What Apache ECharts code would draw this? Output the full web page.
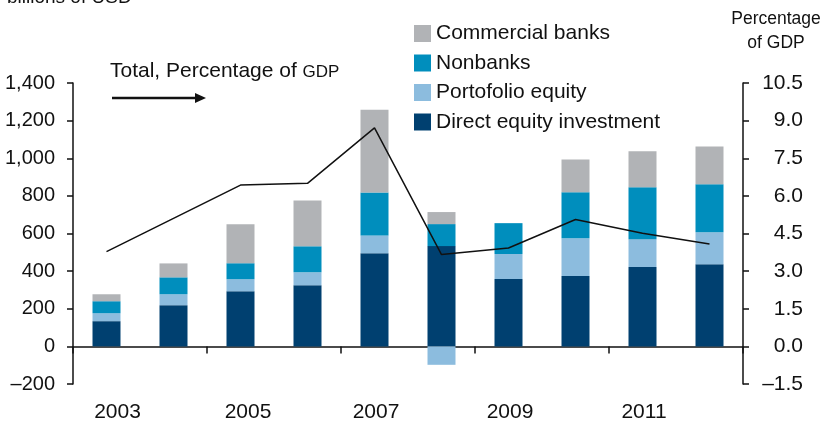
<!DOCTYPE html>
<html>
<head>
<meta charset="utf-8">
<script src="https://cdn.jsdelivr.net/npm/echarts@6/dist/echarts.min.js"></script>
<style>
html, body { margin: 0; padding: 0; background: #fff; }
#chart { width: 824px; height: 422px; }
</style>
</head>
<body>
<div id="chart"></div>
<script>
var years = ["2003", "2004", "2005", "2006", "2007", "2008", "2009", "2010", "2011", "2012"];
var directEquity = [134, 219, 293, 325, 495, 533, 358, 374, 422, 437];
var portfolioEquity = [42, 58, 64, 69, 95, -98, 133, 201, 148, 170];
var nonbanks = [64, 90, 85, 138, 228, 117, 164, 244, 276, 255];
var commercialBanks = [37, 74, 207, 244, 440, 64, 0, 175, 191, 201];
var totalPctGdp = [3.78, 5.1, 6.43, 6.5, 8.71, 3.66, 3.92, 5.06, 4.51, 4.08];
var leftTicks = { min: -200, max: 1400, interval: 200 };
var rightTicks = { min: -1.5, max: 10.5, interval: 1.5 };

var font = "'Liberation Sans', Arial, Helvetica, sans-serif";
var colors = {
    commercial: "#b1b3b6",
    nonbanks: "#008ebd",
    portfolio: "#8cbcde",
    direct: "#004070"
};
// the source nudges the first year labels a little to the right
var labelShift = { "2003": 22, "2005": 15 };

var myChart = echarts.init(document.getElementById("chart"));

function barSeries(name, data, color) {
    return {
        name: name,
        type: "bar",
        stack: "total",
        barWidth: 28,
        data: data,
        itemStyle: { color: color },
        emphasis: { disabled: true }
    };
}

var yearLabels = years.map(function(y) {
    return { value: y, textStyle: { padding: [0, 0, 0, labelShift[y] || 3] } };
});

var option = {
    animation: false,
    textStyle: { fontFamily: font },
    grid: { left: 73, right: 81, top: 83, bottom: 38, outerBoundsMode: "none", containLabel: false },
    legend: {
        orient: "vertical",
        left: 414,
        top: 23,
        padding: 0,
        icon: "rect",
        itemWidth: 17,
        itemHeight: 17,
        itemGap: 8.5,
        textStyle: { fontSize: 21, color: "#111", fontFamily: font },
        data: ["Commercial banks", "Nonbanks", "Portofolio equity", "Direct equity investment"]
    },
    xAxis: [
        {
            // zero line with ticks
            type: "category",
            data: years,
            axisLine: { onZero: true, lineStyle: { color: "#111", width: 1.5 } },
            axisTick: { show: true, interval: 1, length: 7, lineStyle: { color: "#111", width: 1.5 } },
            axisLabel: { show: false }
        },
        {
            // year labels under the plot
            type: "category",
            data: yearLabels,
            position: "bottom",
            axisLine: { show: false, onZero: false },
            axisTick: { show: false },
            axisLabel: { interval: 1, margin: 18, fontSize: 21, color: "#111" }
        }
    ],
    yAxis: [
        {
            type: "value",
            min: leftTicks.min,
            max: leftTicks.max,
            interval: leftTicks.interval,
            splitLine: { show: false },
            axisLine: { show: true, lineStyle: { color: "#111", width: 1.5 } },
            axisTick: { show: true, length: 6, lineStyle: { color: "#111", width: 1.5 } },
            axisLabel: {
                fontSize: 20,
                color: "#111",
                margin: 18,
                formatter: function(v) {
                    var s = Math.abs(v).toLocaleString("en-US");
                    return v < 0 ? "\u2013" + s : s;
                }
            }
        },
        {
            type: "value",
            position: "right",
            min: rightTicks.min,
            max: rightTicks.max,
            interval: rightTicks.interval,
            splitLine: { show: false },
            axisLine: { show: true, lineStyle: { color: "#111", width: 1.5 } },
            axisTick: { show: true, length: 6, lineStyle: { color: "#111", width: 1.5 } },
            axisLabel: {
                fontSize: 21,
                color: "#111",
                align: "right",
                margin: 60,
                formatter: function(v) {
                    var s = Math.abs(v).toFixed(1);
                    return v < 0 ? "\u2013" + s : s;
                }
            }
        }
    ],
    series: [
        barSeries("Direct equity investment", directEquity, colors.direct),
        barSeries("Portofolio equity", portfolioEquity, colors.portfolio),
        barSeries("Nonbanks", nonbanks, colors.nonbanks),
        barSeries("Commercial banks", commercialBanks, colors.commercial),
        {
            name: "Total, Percentage of GDP",
            type: "line",
            yAxisIndex: 1,
            data: totalPctGdp,
            symbol: "none",
            lineStyle: { color: "#111", width: 1.5 },
            emphasis: { disabled: true },
            z: 5
        }
    ],
    graphic: [
        // cut-off unit label at the very top
        {
            type: "text",
            left: 7,
            top: -12,
            style: { text: "billions of USD", font: "19px " + font, fill: "#111" }
        },
        {
            type: "text",
            left: 110,
            top: 61,
            style: {
                text: "{a|Total, Percentage of }{b|GDP}",
                rich: {
                    a: { fontSize: 21, fontFamily: font, fill: "#111", lineHeight: 24, verticalAlign: "bottom" },
                    b: { fontSize: 17, fontFamily: font, fill: "#111", lineHeight: 24, verticalAlign: "bottom", padding: [0, 0, 1, 0] }
                }
            }
        },
        {
            type: "line",
            shape: { x1: 112, y1: 98, x2: 198, y2: 98 },
            style: { stroke: "#111", lineWidth: 2.5 }
        },
        {
            type: "polygon",
            shape: { points: [[195, 93], [206, 98], [195, 103]] },
            style: { fill: "#111" }
        },
        {
            type: "text",
            x: 776,
            y: 7,
            style: {
                text: "Percentage\nof GDP",
                align: "center",
                font: "17.5px " + font,
                lineHeight: 24,
                fill: "#111"
            }
        }
    ]
};
myChart.setOption(option);
</script>
</body>
</html>
